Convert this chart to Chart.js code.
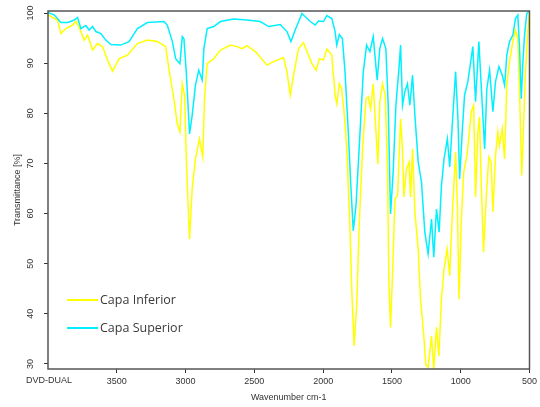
<!DOCTYPE html>
<html>
<head>
<meta charset="utf-8">
<script src="https://cdn.jsdelivr.net/npm/chart.js@4"></script>
<style>
  html, body { margin: 0; padding: 0; background: #fff; }
  #wrap { width: 540px; height: 407px; }
</style>
</head>
<body>
<div id="wrap"><canvas id="ir"></canvas></div>
<script>
const seriesNames = ['Capa Inferior', 'Capa Superior'];
const xTicks = [3500, 3000, 2500, 2000, 1500, 1000, 500];
const yTicks = [30, 40, 50, 60, 70, 80, 90, 100];

// lower layer spectrum
const infWavenumber = [4000, 3960, 3930, 3906, 3870, 3821, 3797, 3761, 3737, 3712, 3676, 3640, 3604, 3567, 3531, 3483, 3423, 3350, 3278, 3205, 3145, 3121, 3085, 3060, 3041, 3024, 3007, 2993, 2971, 2952, 2928, 2899, 2875, 2862, 2843, 2795, 2746, 2674, 2626, 2589, 2553, 2493, 2408, 2360, 2288, 2263, 2239, 2215, 2179, 2143, 2107, 2082, 2051, 2027, 1998, 1973, 1937, 1913, 1901, 1882, 1865, 1846, 1828, 1804, 1792, 1775, 1756, 1737, 1712, 1688, 1672, 1655, 1636, 1616, 1602, 1588, 1568, 1549, 1532, 1522, 1510, 1495, 1478, 1459, 1437, 1423, 1413, 1394, 1375, 1365, 1350, 1333, 1309, 1292, 1268, 1254, 1237, 1212, 1196, 1176, 1159, 1140, 1121, 1099, 1080, 1060, 1037, 1024, 1012, 995, 978, 954, 923, 906, 892, 875, 863, 851, 834, 815, 796, 779, 766, 747, 730, 718, 698, 681, 665, 645, 621, 602, 585, 573, 556, 544, 529, 512, 500];
const infTransmittance = [99.7, 99.0, 98.6, 95.9, 96.9, 97.6, 98.4, 96.3, 94.6, 95.6, 92.6, 93.9, 93.3, 90.6, 88.4, 90.9, 91.6, 93.9, 94.6, 94.3, 93.3, 88.9, 82.9, 77.9, 76.3, 85.9, 83.6, 69.6, 54.9, 64.9, 70.9, 74.9, 71.3, 82.9, 89.9, 90.9, 92.6, 93.6, 93.3, 92.9, 93.5, 92.3, 89.6, 90.3, 91.1, 88.3, 83.6, 87.6, 92.9, 94.1, 91.6, 89.9, 88.6, 90.9, 90.6, 92.8, 91.6, 83.6, 81.9, 85.9, 84.9, 79.6, 72.9, 56.3, 44.9, 33.6, 41.6, 58.3, 73.6, 82.9, 83.3, 80.9, 85.9, 76.3, 69.9, 82.3, 85.9, 83.6, 68.3, 46.3, 37.3, 48.3, 62.9, 63.6, 78.9, 72.9, 63.3, 68.9, 70.3, 63.3, 72.9, 60.3, 52.9, 42.9, 35.6, 29.9, 29.3, 35.6, 28.9, 37.3, 31.6, 42.9, 48.9, 52.9, 47.6, 60.3, 72.3, 61.6, 42.9, 58.9, 68.3, 71.6, 80.3, 81.6, 63.3, 76.3, 79.3, 66.3, 52.3, 62.9, 71.3, 70.3, 60.3, 71.6, 76.3, 73.6, 76.9, 70.9, 85.6, 90.3, 94.3, 96.6, 94.9, 84.9, 67.6, 76.9, 88.3, 96.3, 100.3];

// upper layer spectrum
const supWavenumber = [4000, 3954, 3906, 3857, 3809, 3785, 3761, 3725, 3701, 3676, 3652, 3616, 3580, 3543, 3471, 3411, 3350, 3278, 3157, 3133, 3096, 3072, 3041, 3024, 3012, 2995, 2971, 2952, 2928, 2904, 2879, 2867, 2843, 2795, 2746, 2650, 2553, 2457, 2396, 2312, 2263, 2234, 2203, 2154, 2094, 2058, 2034, 1998, 1973, 1937, 1913, 1901, 1882, 1860, 1841, 1817, 1800, 1781, 1761, 1737, 1708, 1684, 1660, 1636, 1607, 1588, 1568, 1544, 1527, 1510, 1491, 1471, 1447, 1437, 1423, 1406, 1387, 1370, 1350, 1333, 1309, 1285, 1261, 1237, 1212, 1196, 1176, 1157, 1140, 1121, 1097, 1080, 1060, 1037, 1020, 1008, 989, 972, 948, 912, 892, 868, 851, 826, 810, 790, 766, 747, 722, 698, 681, 665, 645, 621, 602, 585, 573, 560, 549, 536, 520, 505];
const supTransmittance = [100.1, 99.6, 98.1, 98.1, 98.6, 99.1, 96.9, 97.5, 96.6, 97.3, 96.3, 95.9, 94.6, 93.7, 93.6, 94.3, 96.9, 98.1, 98.3, 97.6, 94.3, 90.9, 89.9, 95.3, 94.9, 88.3, 75.9, 79.6, 85.6, 88.6, 86.6, 92.9, 96.9, 97.3, 98.3, 98.8, 98.6, 98.3, 97.3, 97.7, 96.3, 94.3, 96.6, 99.9, 98.3, 97.6, 98.4, 98.3, 99.5, 98.9, 96.3, 93.6, 95.7, 94.9, 88.3, 76.3, 66.3, 56.6, 61.6, 73.6, 88.3, 93.6, 92.3, 95.3, 86.6, 92.9, 94.9, 92.9, 81.6, 59.9, 68.3, 81.6, 89.6, 93.6, 81.6, 84.3, 85.9, 81.6, 87.6, 79.6, 70.3, 66.3, 56.3, 52.0, 58.9, 51.3, 60.9, 56.3, 65.6, 70.9, 74.9, 69.3, 78.3, 88.3, 78.9, 66.9, 76.3, 83.6, 86.3, 93.3, 82.3, 94.3, 85.6, 72.9, 84.9, 88.6, 80.3, 86.3, 89.3, 87.6, 85.6, 91.6, 94.3, 95.6, 98.9, 99.6, 93.6, 82.9, 89.6, 95.6, 99.9, 100.3];

const toPoints = (xs, ys) => xs.map((x, i) => ({ x: x, y: ys[i] }));

const axisFont = { family: '"Liberation Sans", Arial, sans-serif', size: 9 };
const textColor = '#333';

// box around the plot area, rotated y labels, footer tag and inset legend
const decorations = {
  id: 'decorations',
  afterDraw(chart) {
    const { ctx, chartArea: a, scales } = chart;
    ctx.save();
    ctx.strokeStyle = '#555';
    ctx.lineWidth = 1.5;
    ctx.strokeRect(a.left, a.top, a.right - a.left, a.bottom - a.top);

    ctx.fillStyle = textColor;
    ctx.font = '9px "Liberation Sans", Arial, sans-serif';
    ctx.textAlign = 'center';
    ctx.textBaseline = 'middle';
    yTicks.forEach(v => {
      const y = scales.y.getPixelForValue(v);
      ctx.save();
      ctx.translate(31, y);
      ctx.rotate(-Math.PI / 2);
      ctx.fillText(String(v), 0, 0);
      ctx.restore();
    });

    ctx.textAlign = 'left';
    ctx.fillText('DVD-DUAL', 26, 381);

    ctx.font = '12.5px "Open Sans", sans-serif';
    chart.data.datasets.forEach((ds, i) => {
      const y = 300 + i * 28;
      ctx.strokeStyle = ds.borderColor;
      ctx.lineWidth = 2;
      ctx.beginPath();
      ctx.moveTo(67, y);
      ctx.lineTo(98, y);
      ctx.stroke();
      ctx.fillStyle = '#3a3a3a';
      ctx.fillText(ds.label, 100, y);
    });
    ctx.restore();
  }
};

new Chart(document.getElementById('ir'), {
  type: 'line',
  data: {
    datasets: [
      {
        label: seriesNames[0],
        data: toPoints(infWavenumber, infTransmittance),
        borderColor: '#ffff00',
        borderWidth: 1.5,
        pointRadius: 0,
        tension: 0,
        order: 1
      },
      {
        label: seriesNames[1],
        data: toPoints(supWavenumber, supTransmittance),
        borderColor: '#00f0ff',
        borderWidth: 1.5,
        pointRadius: 0,
        tension: 0,
        order: 0
      }
    ]
  },
  options: {
    responsive: true,
    maintainAspectRatio: false,
    animation: false,
    layout: { padding: { top: 11, right: 10, left: 0, bottom: 0 } },
    plugins: {
      legend: { display: false },
      tooltip: { enabled: false }
    },
    scales: {
      x: {
        type: 'linear',
        reverse: true,
        min: 500,
        max: 4000,
        afterBuildTicks: s => { s.ticks = xTicks.map(v => ({ value: v })); },
        afterFit: s => { s.height = 38; },
        border: { display: false },
        grid: { drawOnChartArea: false, drawTicks: true, tickLength: 4, tickColor: '#333', lineWidth: 1 },
        ticks: { font: axisFont, color: textColor, padding: 3, maxRotation: 0, callback: v => String(v) },
        title: {
          display: true,
          text: 'Wavenumber cm-1',
          font: axisFont,
          color: textColor,
          padding: { top: 0, bottom: 4.5 }
        }
      },
      y: {
        min: 29,
        max: 100.4,
        afterBuildTicks: s => { s.ticks = yTicks.map(v => ({ value: v })); },
        afterFit: s => { s.width = 48; },
        border: { display: false },
        grid: { drawOnChartArea: false, drawTicks: true, tickLength: 4, tickColor: '#333', lineWidth: 1 },
        ticks: { display: false },
        title: {
          display: true,
          text: 'Transmittance [%]',
          font: axisFont,
          color: textColor,
          padding: { top: 12.5, bottom: 0 }
        }
      }
    }
  },
  plugins: [decorations]
});
</script>
</body>
</html>
